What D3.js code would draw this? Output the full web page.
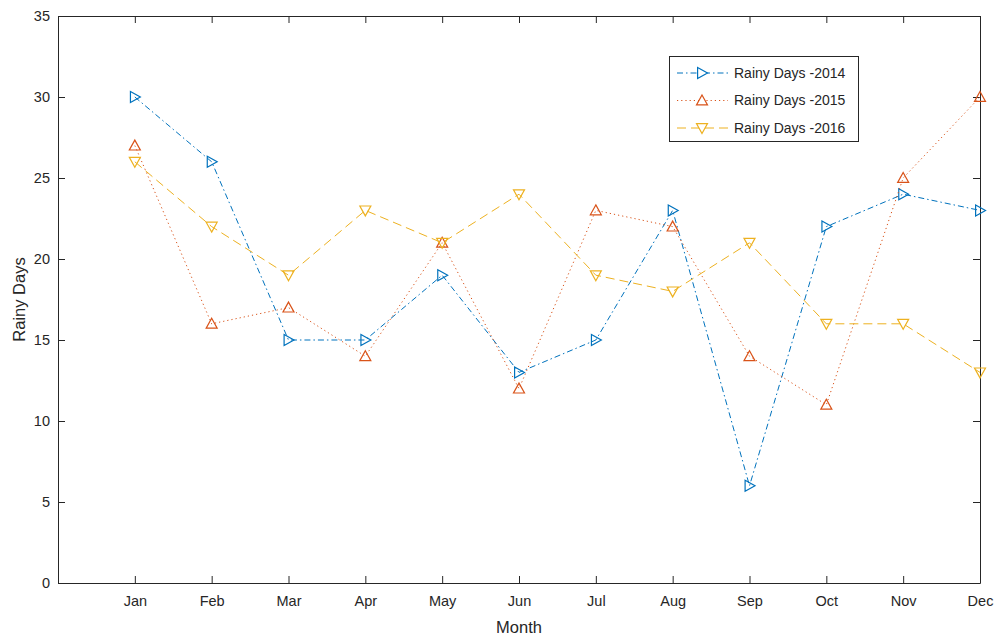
<!DOCTYPE html>
<html><head><meta charset="utf-8">
<script src="https://cdn.jsdelivr.net/npm/d3@7"></script>
<style>body{margin:0;background:#fff}svg{display:block}text{font-family:"Liberation Sans",Arial,Helvetica,sans-serif}</style>
</head><body><svg id="c" width="997" height="636"></svg>
<script>
const months = ["Jan","Feb","Mar","Apr","May","Jun","Jul","Aug","Sep","Oct","Nov","Dec"];
const rain2014 = [30,26,15,15,19,13,15,23,6,22,24,23];
const rain2015 = [27,16,17,14,21,12,23,22,14,11,25,30];
const rain2016 = [26,22,19,23,21,24,19,18,21,16,16,13];
const yTicks = [0,5,10,15,20,25,30,35];
const seriesNames = ["Rainy Days -2014","Rainy Days -2015","Rainy Days -2016"];

const series = [
  {name: seriesNames[0], values: rain2014, color: "#0072BD", dash: "6,3,1.5,3", marker: "right"},
  {name: seriesNames[1], values: rain2015, color: "#D95319", dash: "1.2,3", marker: "up"},
  {name: seriesNames[2], values: rain2016, color: "#EDB120", dash: "9,5", marker: "down"}
];

const L = 58, R = 980, T = 16, B = 583;
const svg = d3.select("#c");
const x = d3.scaleLinear().domain([0, 12]).range([L, R]);
const y = d3.scaleLinear().domain([0, 35]).range([B, T]);
const axisColor = "#262626";

// axes
const gx = svg.append("g").attr("transform", `translate(0,${B})`)
  .call(d3.axisBottom(x).tickValues(d3.range(1,13)).tickFormat(d => months[d-1]).tickSizeInner(-7).tickSizeOuter(0).tickPadding(13));
const gxt = svg.append("g").attr("transform", `translate(0,${T})`)
  .call(d3.axisTop(x).tickValues(d3.range(1,13)).tickFormat("").tickSizeInner(-7).tickSizeOuter(0));
const gy = svg.append("g").attr("transform", `translate(${L},0)`)
  .call(d3.axisLeft(y).tickValues(yTicks).tickSizeInner(-7).tickSizeOuter(0).tickPadding(8));
const gyr = svg.append("g").attr("transform", `translate(${R},0)`)
  .call(d3.axisRight(y).tickValues(yTicks).tickFormat("").tickSizeInner(-7).tickSizeOuter(0));
[gx,gxt,gy,gyr].forEach(g => {
  g.selectAll("path").attr("stroke", axisColor).attr("stroke-width", 1);
  g.selectAll("line").attr("stroke", axisColor).attr("stroke-width", 1);
  g.selectAll("text").attr("fill", axisColor).style("font-size", "14.5px").style("font-family", '"Liberation Sans",Arial,sans-serif');
});

svg.append("text").attr("x", (L+R)/2).attr("y", 633).attr("text-anchor","middle")
  .attr("fill", axisColor).style("font-size","16.5px").text("Month");
svg.append("text").attr("transform", `translate(25,${(T+B)/2}) rotate(-90)`).attr("text-anchor","middle")
  .attr("fill", axisColor).style("font-size","16.5px").text("Rainy Days");

function markerPath(type, s) {
  const h = s/2;
  if (type === "right") return `M${-h*0.8},${-h}L${h},0L${-h*0.8},${h}Z`;
  if (type === "up") return `M0,${-h}L${h},${h*0.8}L${-h},${h*0.8}Z`;
  return `M0,${h}L${h},${-h*0.8}L${-h},${-h*0.8}Z`;
}

const line = d3.line().x((d,i) => x(i+1)).y(d => y(d));
series.forEach(s => {
  svg.append("path").datum(s.values).attr("d", line).attr("fill","none")
    .attr("stroke", s.color).attr("stroke-width", 1).attr("stroke-dasharray", s.dash);
  svg.append("g").selectAll("path").data(s.values).join("path")
    .attr("transform", (d,i) => `translate(${x(i+1)},${y(d)})`)
    .attr("d", markerPath(s.marker, 11)).attr("fill","none").attr("stroke", s.color).attr("stroke-width", 1.2);
});

// legend
const lg = svg.append("g");
lg.append("rect").attr("x", 669.5).attr("y", 56.5).attr("width", 189).attr("height", 85)
  .attr("fill","#fff").attr("stroke", axisColor).attr("stroke-width", 1);
series.forEach((s, i) => {
  const yy = 73 + i*27.5;
  lg.append("line").attr("x1", 677).attr("x2", 728).attr("y1", yy).attr("y2", yy)
    .attr("stroke", s.color).attr("stroke-width", 1).attr("stroke-dasharray", s.dash);
  lg.append("path").attr("transform", `translate(702,${yy})`).attr("d", markerPath(s.marker, 11))
    .attr("fill","#fff").attr("stroke", s.color).attr("stroke-width", 1.2);
  lg.append("text").attr("x", 734).attr("y", yy).attr("dy","0.35em").attr("fill", axisColor)
    .style("font-size","14px").text(s.name);
});
</script></body></html>
